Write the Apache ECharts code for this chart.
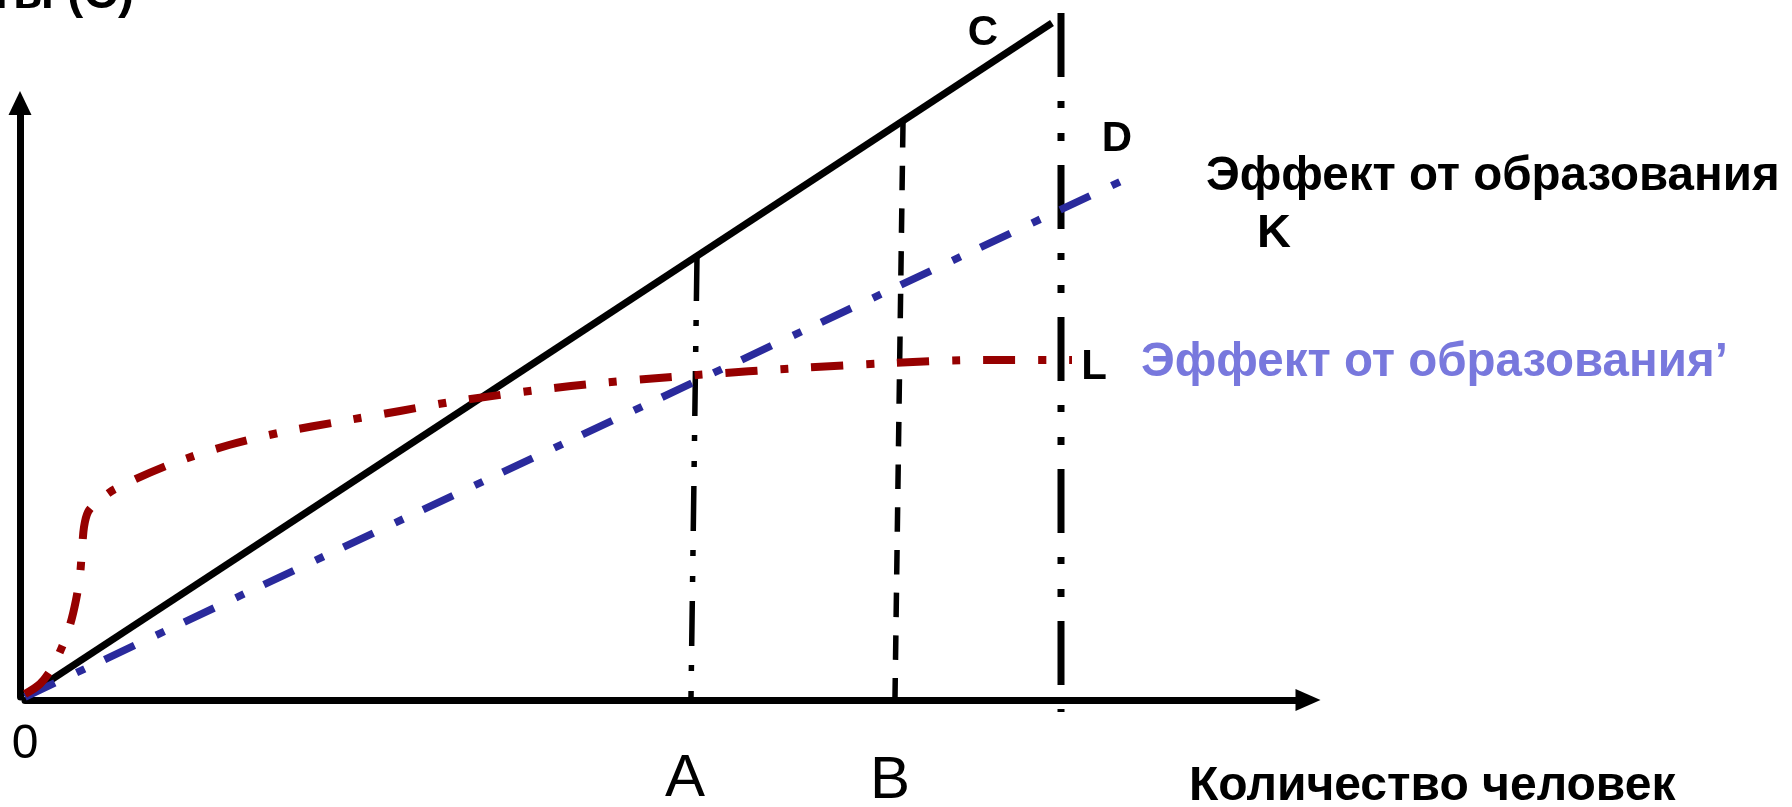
<!DOCTYPE html>
<html>
<head>
<meta charset="utf-8">
<script src="https://cdn.jsdelivr.net/npm/echarts@6/dist/echarts.min.js"></script>
<style>
html,body{margin:0;padding:0;background:#fff;}
#chart{width:1792px;height:807px;}
</style>
</head>
<body>
<div id="chart"></div>
<script>
// ---- data (schematic units) ----
const lineC = [[0, 0], [102.7, 67.4]];
const lineK = [[0, 0], [110.5, 52.0]];
const lineL = [
  [0, 0.3], [1.5, 1.3], [2.7, 2.9], [3.7, 5.0], [4.5, 7.2], [5.1, 9.7],
  [5.5, 12.2], [5.7, 14.7], [5.9, 17.0], [6.3, 18.5], [7.1, 19.4], [9.0, 20.8],
  [14.6, 23.3], [20.4, 25.2], [25.8, 26.5], [31.8, 27.6], [37.5, 28.6], [43.2, 29.6],
  [54.6, 31.1], [67.2, 32.2], [77.5, 32.9], [86.6, 33.4], [95.8, 33.7], [104.7, 33.7]
];
const guideA = [[67.2, 44.1], [66.6, 0]];
const guideB = [[87.8, 57.4], [87.0, 0]];
const guideEnd = [[103.6, 68.4], [103.6, -1.5]];
const xTickValues = [0, 66.6, 87.0];
const xTickLabels = ['0', 'A', 'B'];
const pointLetters = ['C', 'D', 'L', 'K'];
const curveTitles = ['Эффект от образования', 'Эффект от образования\u2019'];
const xTitle = 'Количество человек';
const yTitle = 'Затраты (С)';

const FONT = "'Liberation Sans', Arial, sans-serif";
const chart = echarts.init(document.getElementById('chart'), null, {renderer: 'canvas'});

function lineSeries(name, data, color, width, dash, z, smooth) {
  return {
    name: name, type: 'line', data: data, showSymbol: false, symbol: 'none',
    clip: false, silent: true, animation: false, z: z, smooth: smooth || false,
    lineStyle: {color: color, width: width, type: dash, cap: 'butt', join: 'round'}
  };
}

const option = {
  animation: false,
  backgroundColor: '#ffffff',
  grid: {left: 25, top: 103, width: 1280, height: 594, containLabel: false, outerBoundsMode: 'none'},
  xAxis: {
    type: 'value', min: 0, max: 128, offset: 3,
    splitLine: {show: false}, axisTick: {show: false},
    axisLine: {show: true, onZero: false, symbol: ['none', 'triangle'], symbolSize: [22, 25], symbolOffset: [0, 3],
      lineStyle: {color: '#000', width: 7}},
    axisLabel: {
      show: true, customValues: xTickValues, margin: 21,
      formatter: function (v) {
        const i = xTickValues.indexOf(v);
        const t = i >= 0 ? xTickLabels[i] : '';
        return i === 0 ? '{z|' + t + '}' : (i === 1 ? '{a|' + t + '}' : '{b|' + t + '}');
      },
      rich: {
        z: {fontFamily: FONT, fontSize: 48, color: '#000', lineHeight: 48},
        a: {fontFamily: FONT, fontSize: 60, color: '#000', lineHeight: 60, padding: [56, 12, 0, 0]},
        b: {fontFamily: FONT, fontSize: 60, color: '#000', lineHeight: 60, padding: [60, 10, 0, 0]}
      }
    }
  },
  yAxis: {
    type: 'value', min: 0, max: 59.4, offset: 5,
    splitLine: {show: false}, axisTick: {show: false}, axisLabel: {show: false},
    axisLine: {show: true, onZero: false, symbol: ['none', 'triangle'], symbolSize: [23, 24],
      lineStyle: {color: '#000', width: 7}}
  },
  series: [
    lineSeries('A', guideA, '#000', 5.5, [45, 19, 6, 20, 6, 19], 2),
    lineSeries('B', guideB, '#000', 5.5, [24.5, 18.2], 2),
    lineSeries('End', guideEnd, '#000', 7, [64, 24, 7, 25, 8, 24], 2),
    lineSeries('C', lineC, '#000', 7, 'solid', 3),
    lineSeries('K', lineK, '#2a2a9c', 7.5, [33, 24, 9, 22], 4),
    lineSeries('L', lineL, '#960000', 8, [32, 23, 8, 23], 5, 0.3)
  ]
};
chart.setOption(option);

function px(p) { return chart.convertToPixel({gridIndex: 0}, p); }
const endC = px(lineC[lineC.length - 1]);
const endK = px(lineK[lineK.length - 1]);
const endL = px(lineL[lineL.length - 1]);
const origin = px([0, 0]);
const axisEnd = px([128, 0]);

function txt(x, y, text, size, weight, color, align) {
  return {type: 'text', silent: true, z: 10,
    style: {x: x, y: y, text: text, fill: color || '#000', align: align || 'left', verticalAlign: 'middle',
      font: (weight || 'bold') + ' ' + size + 'px ' + FONT}};
}

chart.setOption({
  graphic: [
    txt(endC[0] - 69, endC[1] + 10, pointLetters[0], 42, 'bold', '#000', 'center'),
    txt(endK[0] - 13, endK[1] - 38, pointLetters[1], 42, 'bold', '#000', 'center'),
    txt(endK[0] + 76, endK[1] + 0, curveTitles[0], 47.5, 'bold', '#000', 'left'),
    txt(endK[0] + 127, endK[1] + 57, pointLetters[3], 47, 'bold', '#000', 'left'),
    txt(endL[0] + 22, endL[1] + 7, pointLetters[2], 42, 'bold', '#000', 'center'),
    txt(endL[0] + 69, endL[1] + 3, curveTitles[1], 47.5, 'bold', '#7878dd', 'left'),
    txt(axisEnd[0] - 116, origin[1] + 90, xTitle, 48, 'bold', '#000', 'left'),
    txt(134, -5, yTitle, 48, 'bold', '#000', 'right')
  ]
});
</script>
</body>
</html>
